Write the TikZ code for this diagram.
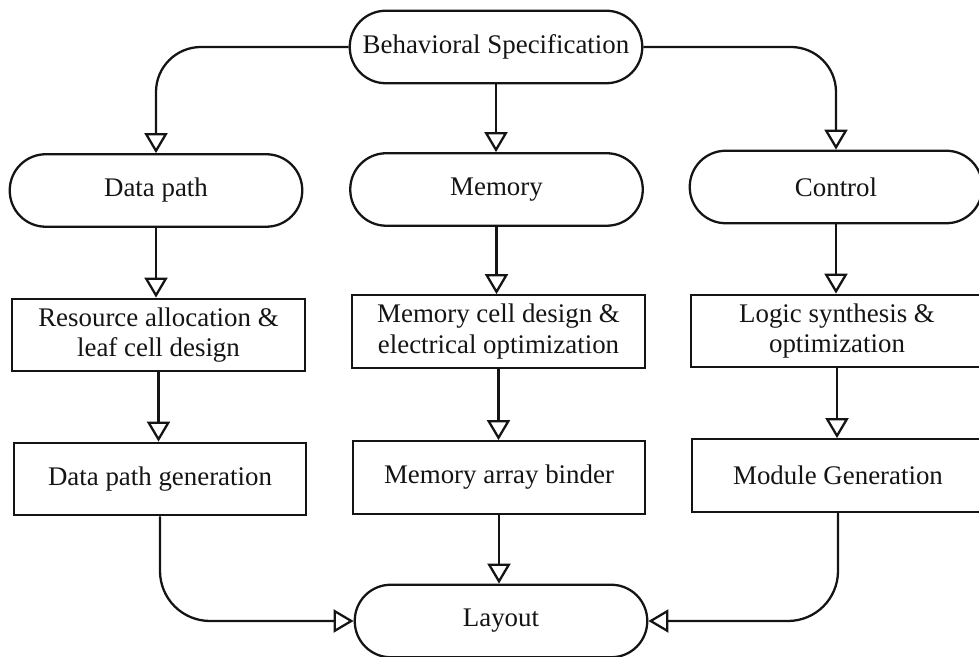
\documentclass[tikz,border=0pt]{standalone}
\usepackage{fontspec}
\setmainfont{Liberation Serif}
\usepackage{tikz}
\usetikzlibrary{arrows.meta}
\definecolor{ink}{RGB}{20,20,20}

\begin{document}
\begin{tikzpicture}[line width=1.3pt, draw=ink, text=ink,
    font=\fontsize{15.3}{17.5}\selectfont,
    oval/.style={draw, rounded corners=0.72cm, minimum width=5.85cm, minimum height=1.45cm, align=center},
    task/.style={draw, minimum width=5.85cm, minimum height=1.45cm, align=center, inner sep=2pt},
    flow/.style={-{Triangle[open, width=0.46cm, length=0.4cm]}}]

  \useasboundingbox (0,0) rectangle (19.58,13.14);

  % ---------- top and bottom ----------
  \node[oval] (spec)   at (9.92,12.2) {Behavioral Specification};
  \node[oval] (layout) at (10.02,0.72) {Layout};

  % ---------- three domains ----------
  \node[oval] (dpath) at (3.12,9.33) {Data path};
  \node[oval] (mem)   at (9.93,9.35) {Memory};
  \node[oval] (ctrl)  at (16.72,9.4) {Control};

  % ---------- synthesis steps ----------
  \node[task] (alloc)   at (3.17,6.44) {Resource allocation \&\\leaf cell design};
  \node[task] (cell)    at (9.97,6.51) {Memory cell design \&\\electrical optimization};
  \node[task] (logic)   at (16.74,6.52) {Logic synthesis \&\\optimization};

  % ---------- generators ----------
  \node[task] (dpgen)  at (3.2,3.56)  {Data path generation};
  \node[task] (binder) at (9.98,3.59) {Memory array binder};
  \node[task] (modgen) at (16.76,3.63) {Module Generation};

  % ---------- arrows ----------
  \draw[flow, rounded corners=0.9cm] (spec.west) -| (dpath.north);
  \draw[flow] (spec.south) -- (spec.south |- mem.north);
  \draw[flow, rounded corners=0.9cm] (spec.east) -| (ctrl.north);

  \draw[flow] (dpath.south) -- (dpath.south |- alloc.north);
  \draw[flow] (mem.south)   -- (mem.south |- cell.north);
  \draw[flow] (ctrl.south)  -- (ctrl.south |- logic.north);

  \draw[flow] (alloc.south) -- (alloc.south |- dpgen.north);
  \draw[flow] (cell.south)  -- (cell.south |- binder.north);
  \draw[flow] (logic.south) -- (logic.south |- modgen.north);

  \draw[flow, rounded corners=1cm] (dpgen.south) |- (layout.west);
  \draw[flow] (binder.south) -- (binder.south |- layout.north);
  \draw[flow, rounded corners=1cm] (modgen.south) |- (layout.east);

\end{tikzpicture}
\end{document}
